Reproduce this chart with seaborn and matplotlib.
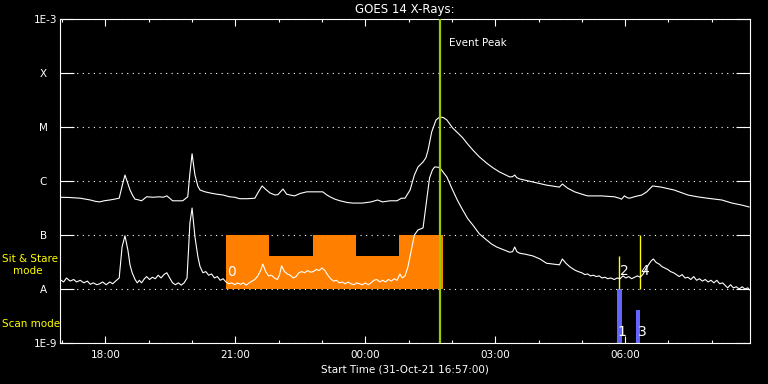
import matplotlib
matplotlib.use("Agg")
import matplotlib.dates as mdates
import matplotlib.pyplot as plt
import matplotlib.ticker as mticker
import pandas as pd
import seaborn as sns

# GOES 14 long channel (1-8 A), W/m^2
long_times = [
    "16:57", "17:10", "17:25", "17:33", "17:39", "17:46", "17:52", "17:58", "18:06", "18:12",
    "18:19", "18:23", "18:27", "18:31", "18:34", "18:38", "18:41", "18:45", "18:50", "18:57",
    "19:06", "19:15", "19:20", "19:25", "19:29", "19:33", "19:40", "19:47", "19:54", "19:57",
    "20:00", "20:02", "20:04", "20:08", "20:11", "20:18", "20:25", "20:34", "20:43", "20:52",
    "20:59", "21:06", "21:17", "21:27", "21:31", "21:37", "21:42", "21:48", "21:55", "21:59",
    "22:06", "22:11", "22:16", "22:22", "22:30", "22:39", "22:50", "23:01", "23:06", "23:11",
    "23:18", "23:25", "23:35", "23:43", "23:56", "00:08", "00:17", "00:24", "00:34", "00:44",
    "00:50", "00:55", "01:02", "01:08", "01:13", "01:20", "01:24", "01:27", "01:32", "01:38",
    "01:43", "01:48", "01:53", "02:01", "02:08", "02:15", "02:22", "02:29", "02:38", "02:48",
    "02:57", "03:06", "03:20", "03:24", "03:27", "03:30", "03:34", "03:52", "04:11", "04:29",
    "04:33", "04:40", "04:50", "05:00", "05:08", "05:27", "05:45", "05:52", "05:55", "05:59",
    "06:03", "06:06", "06:15", "06:23", "06:30", "06:38", "06:50", "07:08", "07:27", "07:40",
    "07:54", "08:14", "08:28", "08:41", "08:52",
]
long_flux = [
    5.0e-7, 4.95e-7, 4.8e-7, 4.6e-7, 4.45e-7, 4.2e-7, 4.1e-7, 4.3e-7, 4.45e-7, 4.6e-7,
    4.8e-7, 8.0e-7, 1.29e-6, 9.0e-7, 6.8e-7, 5.3e-7, 4.6e-7, 4.5e-7, 4.3e-7, 5.1e-7,
    5.0e-7, 5.1e-7, 5.0e-7, 5.3e-7, 4.8e-7, 4.3e-7, 4.3e-7, 4.3e-7, 5.1e-7, 1.4e-6,
    3.2e-6, 2.0e-6, 1.29e-6, 8.0e-7, 6.8e-7, 6.3e-7, 6.0e-7, 5.7e-7, 5.5e-7, 5.1e-7,
    5.0e-7, 4.7e-7, 4.7e-7, 4.8e-7, 6.0e-7, 8.1e-7, 7.0e-7, 6.0e-7, 5.5e-7, 5.6e-7,
    7.1e-7, 5.7e-7, 5.5e-7, 5.3e-7, 5.9e-7, 6.3e-7, 6.3e-7, 6.3e-7, 5.6e-7, 5.1e-7,
    4.6e-7, 4.3e-7, 4.0e-7, 3.9e-7, 3.9e-7, 4.1e-7, 4.45e-7, 4.1e-7, 4.3e-7, 4.3e-7,
    4.8e-7, 4.8e-7, 6.8e-7, 1.29e-6, 1.82e-6, 2.25e-6, 2.7e-6, 3.75e-6, 8.1e-6, 1.35e-5,
    1.53e-5, 1.5e-5, 1.35e-5, 9.6e-6, 7.8e-6, 6.3e-6, 4.8e-6, 3.75e-6, 2.8e-6, 2.15e-6,
    1.75e-6, 1.47e-6, 1.19e-6, 1.2e-6, 1.29e-6, 1.15e-6, 1.09e-6, 9.6e-7, 8.4e-7, 7.7e-7,
    8.8e-7, 7.4e-7, 6.3e-7, 5.7e-7, 5.3e-7, 5.3e-7, 5.1e-7, 4.8e-7, 4.6e-7, 5.3e-7,
    4.9e-7, 4.8e-7, 5.2e-7, 5.5e-7, 6.3e-7, 8.1e-7, 7.7e-7, 6.8e-7, 5.5e-7, 5.1e-7,
    4.8e-7, 4.45e-7, 3.9e-7, 3.6e-7, 3.3e-7,
]

# GOES 14 short channel (0.5-4 A), W/m^2
short_times = [
    "16:57", "17:02", "17:06", "17:11", "17:16", "17:20", "17:25", "17:30", "17:35", "17:39",
    "17:43", "17:48", "17:52", "17:56", "18:01", "18:06", "18:10", "18:14", "18:19", "18:23",
    "18:27", "18:31", "18:34", "18:37", "18:41", "18:44", "18:47", "18:50", "18:54", "18:57",
    "19:01", "19:05", "19:09", "19:13", "19:17", "19:21", "19:25", "19:29", "19:33", "19:37",
    "19:41", "19:45", "19:49", "19:53", "19:57", "20:00", "20:04", "20:08", "20:11", "20:15",
    "20:19", "20:23", "20:27", "20:31", "20:35", "20:39", "20:43", "20:47", "20:51", "20:55",
    "20:59", "21:03", "21:07", "21:11", "21:15", "21:19", "21:23", "21:27", "21:31", "21:35",
    "21:38", "21:42", "21:46", "21:50", "21:54", "21:58", "22:01", "22:04", "22:08", "22:12",
    "22:16", "22:20", "22:24", "22:28", "22:32", "22:36", "22:40", "22:44", "22:48", "22:52",
    "22:56", "23:00", "23:04", "23:08", "23:12", "23:16", "23:20", "23:24", "23:28", "23:32",
    "23:36", "23:40", "23:44", "23:48", "23:52", "23:56", "00:00", "00:04", "00:08", "00:12",
    "00:16", "00:20", "00:24", "00:28", "00:32", "00:36", "00:40", "00:44", "00:48", "00:51",
    "00:55", "00:59", "01:04", "01:08", "01:13", "01:20", "01:25", "01:29", "01:33", "01:36",
    "01:41", "01:44", "01:48", "01:53", "02:01", "02:08", "02:15", "02:22", "02:29", "02:38",
    "02:48", "02:55", "03:02", "03:12", "03:20", "03:24", "03:27", "03:30", "03:34", "03:42",
    "03:52", "04:02", "04:11", "04:20", "04:29", "04:33", "04:38", "04:43", "04:50", "04:55",
    "05:00", "05:04", "05:08", "05:12", "05:16", "05:20", "05:24", "05:28", "05:32", "05:36",
    "05:40", "05:45", "05:49", "05:53", "05:57", "06:01", "06:05", "06:09", "06:13", "06:17",
    "06:21", "06:25", "06:29", "06:33", "06:36", "06:39", "06:43", "06:47", "06:51", "06:55",
    "06:59", "07:03", "07:07", "07:11", "07:15", "07:19", "07:23", "07:27", "07:31", "07:35",
    "07:39", "07:43", "07:47", "07:51", "07:55", "07:59", "08:03", "08:07", "08:11", "08:15",
    "08:19", "08:22", "08:26", "08:30", "08:34", "08:38", "08:42", "08:46", "08:50", "08:52",
]
short_flux = [
    1.5e-8, 1.35e-8, 1.6e-8, 1.4e-8, 1.5e-8, 1.35e-8, 1.45e-8, 1.3e-8, 1.4e-8, 1.22e-8,
    1.3e-8, 1.2e-8, 1.25e-8, 1.35e-8, 1.2e-8, 1.35e-8, 1.25e-8, 1.4e-8, 1.6e-8, 6.0e-8,
    9.7e-8, 5.3e-8, 2.8e-8, 2.0e-8, 1.5e-8, 1.3e-8, 1.45e-8, 1.3e-8, 1.55e-8, 1.7e-8,
    1.5e-8, 1.65e-8, 1.55e-8, 1.8e-8, 1.6e-8, 1.85e-8, 2.0e-8, 1.6e-8, 1.3e-8, 1.2e-8,
    1.3e-8, 1.18e-8, 1.3e-8, 1.6e-8, 1.67e-7, 3.16e-7, 9.2e-8, 4.0e-8, 2.6e-8, 2.0e-8,
    2.1e-8, 1.8e-8, 1.9e-8, 1.6e-8, 1.7e-8, 1.45e-8, 1.55e-8, 1.35e-8, 1.25e-8, 1.3e-8,
    1.2e-8, 1.3e-8, 1.22e-8, 1.3e-8, 1.18e-8, 1.3e-8, 1.4e-8, 1.5e-8, 1.75e-8, 2.2e-8,
    2.9e-8, 2.1e-8, 1.75e-8, 1.8e-8, 1.6e-8, 1.5e-8, 1.8e-8, 2.7e-8, 2.1e-8, 1.9e-8,
    1.8e-8, 1.6e-8, 1.7e-8, 2.0e-8, 2.1e-8, 2.0e-8, 2.2e-8, 2.05e-8, 2.1e-8, 2.3e-8,
    2.2e-8, 2.45e-8, 2.2e-8, 1.8e-8, 1.55e-8, 1.4e-8, 1.45e-8, 1.3e-8, 1.35e-8, 1.25e-8,
    1.35e-8, 1.25e-8, 1.2e-8, 1.3e-8, 1.25e-8, 1.2e-8, 1.3e-8, 1.2e-8, 1.3e-8, 1.45e-8,
    1.5e-8, 1.35e-8, 1.45e-8, 1.35e-8, 1.5e-8, 1.4e-8, 1.55e-8, 1.45e-8, 1.9e-8, 1.6e-8,
    1.75e-8, 2.55e-8, 5.5e-8, 1.0e-7, 1.24e-7, 1.35e-7, 4.45e-7, 1.14e-6, 1.6e-6, 1.82e-6,
    1.8e-6, 1.7e-6, 1.45e-6, 1.19e-6, 6.8e-7, 4.3e-7, 2.9e-7, 2.0e-7, 1.53e-7, 1.05e-7,
    8.1e-8, 6.8e-8, 6.0e-8, 5.3e-8, 4.8e-8, 4.9e-8, 6.0e-8, 4.9e-8, 4.6e-8, 4.4e-8,
    4.1e-8, 3.6e-8, 3.0e-8, 2.9e-8, 2.8e-8, 3.6e-8, 3.0e-8, 2.6e-8, 2.25e-8, 2.1e-8,
    2.0e-8, 1.85e-8, 1.9e-8, 1.75e-8, 1.8e-8, 1.7e-8, 1.75e-8, 1.6e-8, 1.65e-8, 1.55e-8,
    1.6e-8, 1.5e-8, 1.6e-8, 1.55e-8, 1.75e-8, 1.6e-8, 1.7e-8, 1.55e-8, 1.65e-8, 1.75e-8,
    1.65e-8, 1.9e-8, 2.4e-8, 2.9e-8, 3.3e-8, 3.6e-8, 3.1e-8, 2.9e-8, 2.6e-8, 2.45e-8,
    2.3e-8, 2.1e-8, 2.0e-8, 1.85e-8, 1.7e-8, 1.85e-8, 1.6e-8, 1.65e-8, 1.5e-8, 1.7e-8,
    1.45e-8, 1.55e-8, 1.4e-8, 1.5e-8, 1.35e-8, 1.45e-8, 1.3e-8, 1.45e-8, 1.25e-8, 1.3e-8,
    1.15e-8, 1.05e-8, 1.2e-8, 1.05e-8, 1.1e-8, 1.0e-8, 1.1e-8, 1.0e-8, 1.05e-8, 9.6e-9,
]

# Sit & Stare mode blocks (1 hour each)
stare_starts = ["20:47", "21:47", "22:47", "23:47", "00:47"]
stare_tops = [1e-7, 4.1e-8, 1e-7, 4.1e-8, 1e-7]
stare_base = 1e-8

# Scan mode bars
scan_starts = ["05:49", "06:15"]
scan_tops = [1e-8, 4.1e-9]
scan_base = 1e-9

# yellow raster markers
raster_times = ["05:52", "06:20"]
raster_tops = [4.1e-8, 1e-7]

event_peak = "01:43"

obs_labels = ["0", "1", "2", "3", "4"]
obs_label_times = ["20:54", "05:55", "05:59", "06:24", "06:27"]
obs_label_flux = [2.1e-8, 1.6e-9, 2.2e-8, 1.6e-9, 2.2e-8]

y_levels = [1e-9, 1e-8, 1e-7, 1e-6, 1e-5, 1e-4, 1e-3]
y_labels = ["1E-9", "A   ", "B   ", "C   ", "M   ", "X   ", "1E-3"]


def to_time(hhmm):
    h, m = (int(v) for v in hhmm.split(":"))
    day = "2021-10-31" if h >= 12 else "2021-11-01"
    return pd.Timestamp(f"{day} {h:02d}:{m:02d}")


def to_times(values):
    return [to_time(v) for v in values]


sns.set_theme(style="dark", rc={
    "figure.facecolor": "black",
    "axes.facecolor": "black",
    "axes.edgecolor": "white",
    "text.color": "white",
    "axes.labelcolor": "white",
    "xtick.color": "white",
    "ytick.color": "white",
})
plt.rcParams["font.family"] = ["DejaVu Sans"]

WHITE = "white"
ORANGE = "#ff8000"
BLUE = "#6464ff"
YELLOW = "#ffff00"
GREEN = "#99cc00"

curves = pd.concat([
    pd.DataFrame({"time": to_times(long_times), "flux": long_flux, "channel": "long"}),
    pd.DataFrame({"time": to_times(short_times), "flux": short_flux, "channel": "short"}),
])

fig = plt.figure(figsize=(7.68, 3.84), dpi=100)
ax = fig.add_axes([60 / 768, 41 / 384, 690 / 768, 324 / 384])
ax.set_yscale("log")

hour = 1 / 24
ax.bar(to_times(stare_starts), [t - stare_base for t in stare_tops], bottom=stare_base,
       width=hour, align="edge", color=ORANGE, linewidth=0, zorder=1)
ax.bar(to_times(scan_starts), [t - scan_base for t in scan_tops], bottom=scan_base,
       width=6 / 1440, align="edge", color=BLUE, linewidth=0, zorder=1)
ax.vlines(to_times(raster_times), stare_base, raster_tops, color=YELLOW, linewidth=1, zorder=2)

sns.lineplot(data=curves, x="time", y="flux", hue="channel",
             palette={"long": WHITE, "short": WHITE}, estimator=None, sort=False,
             linewidth=0.8, legend=False, ax=ax, zorder=3)

ax.axvline(to_time(event_peak), color=GREEN, linewidth=1.6, zorder=4)
ax.text(to_time("01:56"), 3.6e-4, "Event Peak", color=WHITE, fontsize=7.5,
        ha="left", va="center")

for lab, t, f in zip(obs_labels, obs_label_times, obs_label_flux):
    ax.text(to_time(t), f, lab, color=WHITE, fontsize=10, ha="center", va="center",
            zorder=5)

ax.set_xlim(to_time("16:57"), to_time("08:53"))
ax.set_ylim(1e-9, 1e-3)

ax.yaxis.set_major_locator(mticker.FixedLocator(y_levels))
ax.yaxis.set_major_formatter(mticker.FixedFormatter(y_labels))
ax.yaxis.set_minor_locator(mticker.NullLocator())
ax.xaxis.set_major_locator(mdates.HourLocator(byhour=range(0, 24, 3)))
ax.xaxis.set_minor_locator(mdates.HourLocator())
ax.xaxis.set_major_formatter(mdates.DateFormatter("%H:%M"))

ax.tick_params(axis="y", which="major", direction="in", length=10, width=0.8,
               left=True, right=True, pad=2, labelsize=7.5)
ax.tick_params(axis="x", which="major", direction="in", length=5, width=0.8,
               bottom=True, top=True, pad=5, labelsize=7.5)
ax.tick_params(axis="x", which="minor", direction="in", length=2.5, width=0.8,
               bottom=True, top=True)

ax.grid(axis="y", which="major", color=WHITE, linewidth=0.8, linestyle=(0, (1, 4)))
ax.grid(axis="x", visible=False)
for spine in ax.spines.values():
    spine.set_color(WHITE)
    spine.set_linewidth(0.8)

ax.set_title("GOES 14 X-Rays:", color=WHITE, fontsize=8.5, pad=4)
ax.set_xlabel("Start Time (31-Oct-21 16:57:00)", fontsize=7.5, labelpad=3)
ax.set_ylabel("")

fig.text(2 / 768, 1 - 259 / 384, "Sit & Stare", color=YELLOW, fontsize=7.5,
         ha="left", va="center")
fig.text(13 / 768, 1 - 271 / 384, "mode", color=YELLOW, fontsize=7.5,
         ha="left", va="center")
fig.text(2 / 768, 1 - 324 / 384, "Scan mode", color=YELLOW, fontsize=7.5,
         ha="left", va="center")

fig.savefig("out.png", dpi=100, facecolor="black")
plt.close(fig)
